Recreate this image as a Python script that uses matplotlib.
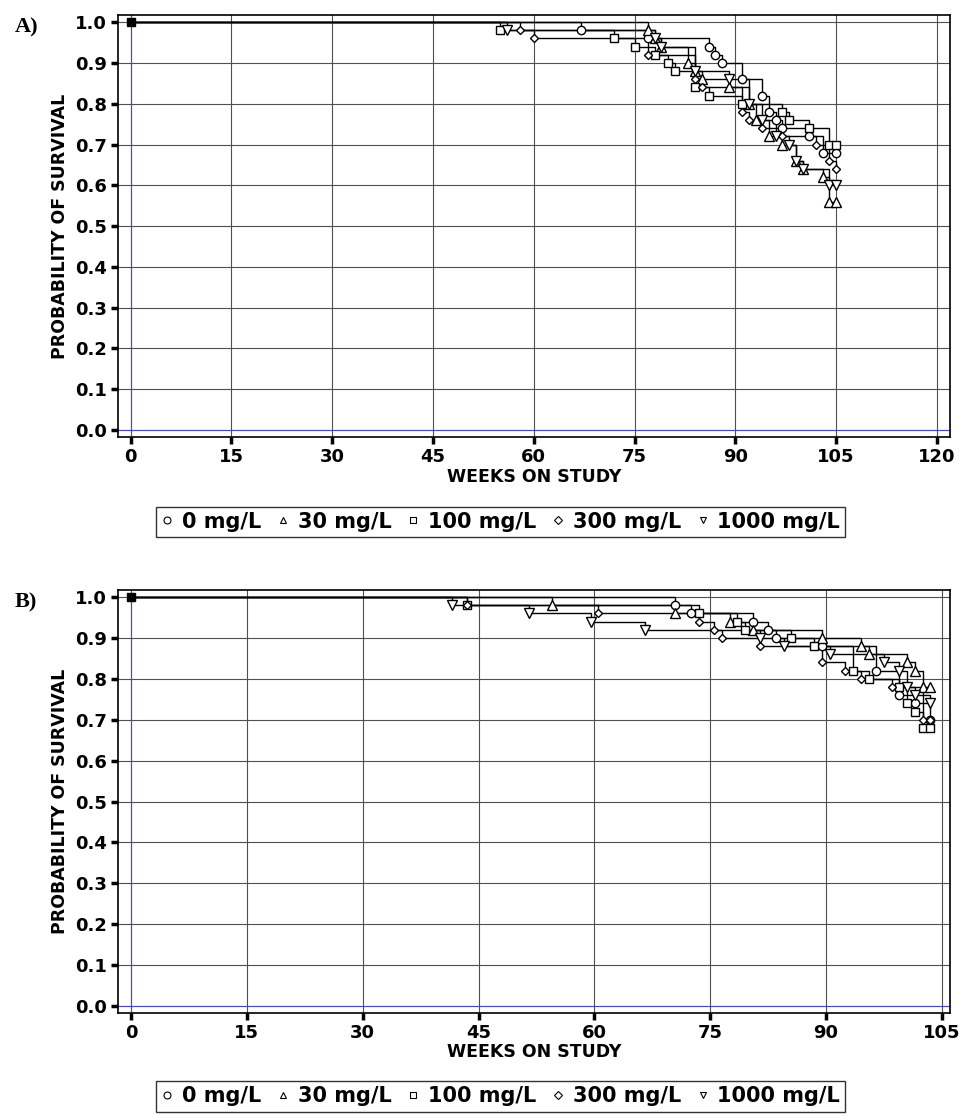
import matplotlib
matplotlib.use('Agg')
import matplotlib.pyplot as plt
from matplotlib.lines import Line2D

# Survival data (week of death, survival after step), panel A
a_weeks_0 = [67, 77, 86, 87, 88, 91, 94, 95, 96, 97, 101, 103, 105]
a_surv_0 = [0.98, 0.96, 0.94, 0.92, 0.90, 0.86, 0.82, 0.78, 0.76, 0.74, 0.72, 0.68, 0.68]
a_weeks_30 = [77, 78, 79, 83, 84, 85, 89, 92, 93, 95, 97, 99, 100, 103, 104, 105]
a_surv_30 = [0.98, 0.96, 0.94, 0.90, 0.88, 0.86, 0.84, 0.80, 0.76, 0.72, 0.70, 0.66, 0.64, 0.62, 0.56, 0.56]
a_weeks_100 = [55, 72, 75, 78, 80, 81, 84, 86, 91, 97, 98, 101, 104, 105]
a_surv_100 = [0.98, 0.96, 0.94, 0.92, 0.90, 0.88, 0.84, 0.82, 0.80, 0.78, 0.76, 0.74, 0.70, 0.70]
a_weeks_300 = [58, 60, 77, 84, 85, 91, 92, 94, 97, 102, 104, 105]
a_surv_300 = [0.98, 0.96, 0.92, 0.86, 0.84, 0.78, 0.76, 0.74, 0.72, 0.70, 0.66, 0.64]
a_weeks_1000 = [56, 78, 79, 84, 89, 92, 94, 96, 98, 99, 100, 104, 105]
a_surv_1000 = [0.98, 0.96, 0.94, 0.88, 0.86, 0.80, 0.76, 0.72, 0.70, 0.66, 0.64, 0.60, 0.60]

# panel B
b_weeks_0 = [70.5, 72.5, 80.5, 82.5, 83.5, 89.5, 96.5, 99.5, 101.5, 103.5]
b_surv_0 = [0.98, 0.96, 0.94, 0.92, 0.90, 0.88, 0.82, 0.76, 0.74, 0.70]
b_weeks_30 = [54.5, 70.5, 77.5, 80.5, 89.5, 94.5, 95.5, 100.5, 101.5, 102.5, 103.5]
b_surv_30 = [0.98, 0.96, 0.94, 0.92, 0.90, 0.88, 0.86, 0.84, 0.82, 0.78, 0.78]
b_weeks_100 = [43.5, 73.5, 78.5, 79.5, 85.5, 88.5, 93.5, 95.5, 99.5, 100.5, 101.5, 102.5, 103.5]
b_surv_100 = [0.98, 0.96, 0.94, 0.92, 0.90, 0.88, 0.82, 0.80, 0.78, 0.74, 0.72, 0.68, 0.68]
b_weeks_300 = [43.5, 60.5, 73.5, 75.5, 76.5, 81.5, 89.5, 92.5, 94.5, 98.5, 102.5, 103.5]
b_surv_300 = [0.98, 0.96, 0.94, 0.92, 0.90, 0.88, 0.84, 0.82, 0.80, 0.78, 0.70, 0.70]
b_weeks_1000 = [41.5, 51.5, 59.5, 66.5, 81.5, 84.5, 90.5, 97.5, 99.5, 100.5, 101.5, 103.5]
b_surv_1000 = [0.98, 0.96, 0.94, 0.92, 0.90, 0.88, 0.86, 0.84, 0.82, 0.78, 0.76, 0.74]

groups = ['0 mg/L', '30 mg/L', '100 mg/L', '300 mg/L', '1000 mg/L']
markers = ['o', '^', 's', 'D', 'v']
msizes = [6, 6.5, 6, 4.5, 6.5]

panel_a = [(a_weeks_0, a_surv_0), (a_weeks_30, a_surv_30), (a_weeks_100, a_surv_100),
           (a_weeks_300, a_surv_300), (a_weeks_1000, a_surv_1000)]
panel_b = [(b_weeks_0, b_surv_0), (b_weeks_30, b_surv_30), (b_weeks_100, b_surv_100),
           (b_weeks_300, b_surv_300), (b_weeks_1000, b_surv_1000)]

fig = plt.figure(figsize=(9.59, 11.16), dpi=100)
BOLD = dict(fontweight='bold', family='DejaVu Sans')


def draw_panel(ax, data, xmax, label, leg_y):
    ax.axvline(0, color='#4040ff', lw=0.8, zorder=1)
    ax.axhline(0, color='#4040ff', lw=0.8, zorder=1)
    for (wk, sv), mk, ms in zip(data, markers, msizes):
        xs = [0] + list(wk)
        ys = [1.0] + list(sv)
        ax.step(xs, ys, where='post', color='black', lw=1.0, zorder=3)
        ax.plot(wk, sv, linestyle='none', marker=mk, ms=ms, mfc='white',
                mec='black', mew=1.0, zorder=4)
    ax.plot([0], [1.0], marker='s', ms=6, color='black', zorder=5)
    ax.set_ylim(-0.017, 1.017)
    ax.set_xticks(range(0, xmax + 1, 15))
    ax.set_yticks([i / 10 for i in range(11)])
    ax.set_yticklabels(['%.1f' % (i / 10) for i in range(11)])
    ax.grid(True, color='#505050', lw=0.8)
    ax.set_axisbelow(True)
    ax.tick_params(direction='out', length=5, width=2.5, labelsize=13, pad=3)
    for t in ax.get_xticklabels() + ax.get_yticklabels():
        t.set_fontweight('bold')
    for s in ax.spines.values():
        s.set_linewidth(1.2)
    ax.set_xlabel('WEEKS ON STUDY', fontsize=12.5, labelpad=1, **BOLD)
    ax.set_ylabel('PROBABILITY OF SURVIVAL', fontsize=12.5, labelpad=4, **BOLD)
    fig.text(0.015, ax.get_position().y1 - 0.011, label, fontsize=16,
             fontweight='bold', family='Liberation Serif', va='center')
    handles = [Line2D([], [], linestyle='none', marker=mk, ms=5 if mk != 'D' else 4,
                      mfc='white', mec='black', mew=0.8) for mk in markers]
    leg = fig.legend(handles, groups, loc='center', bbox_to_anchor=(0.522, leg_y),
                     ncol=5, frameon=True, fancybox=False, handlelength=0.6,
                     handletextpad=0.4, columnspacing=0.75, borderpad=0.25,
                     prop={'weight': 'bold', 'size': 15})
    leg.get_frame().set_edgecolor('black')
    leg.get_frame().set_linewidth(1.0)


ax_a = fig.add_axes([0.123, 0.6084, 0.868, 0.378])
draw_panel(ax_a, panel_a, 120, 'A)', 0.5325)
ax_a.set_xlim(-1.9, 122)

ax_b = fig.add_axes([0.123, 0.0923, 0.868, 0.379])
draw_panel(ax_b, panel_b, 105, 'B)', 0.0175)
ax_b.set_xlim(-1.7, 106.1)

fig.savefig('out.png', dpi=100)
